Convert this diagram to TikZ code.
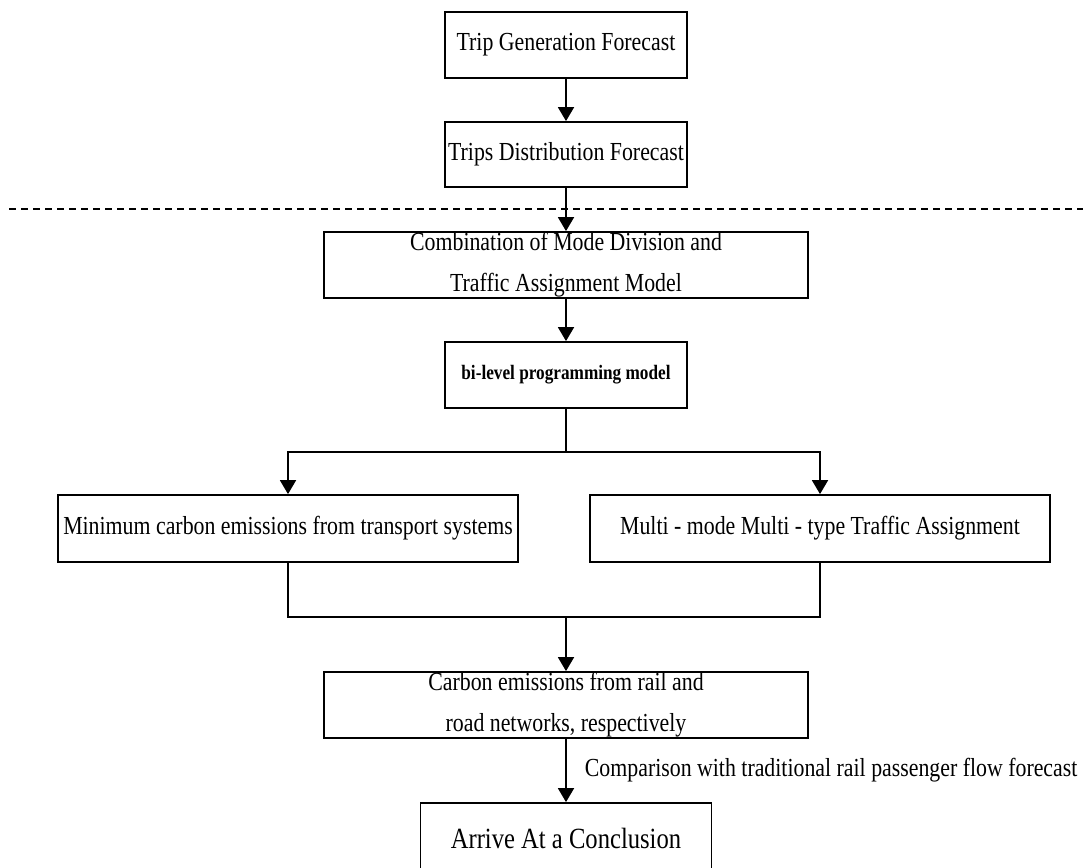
\documentclass[tikz,border=0pt]{standalone}
\usepackage{fontspec}
\setmainfont[FakeStretch=0.84]{Liberation Serif}
\usetikzlibrary{arrows.meta}
\begin{document}
\begin{tikzpicture}[x=1pt,y=-1pt,
  box/.style={draw,line width=1.8pt,inner sep=0pt,align=center,font=\fontsize{26}{40}\selectfont},
  ln/.style={line width=1.8pt},
  arr/.style={line width=1.8pt,-{Triangle[width=16pt,length=14pt]}},
  dashline/.style={line width=2.5pt,dash pattern=on 7.3pt off 4.7pt}]
\path[use as bounding box,clip] (0,0) rectangle (1083,867);
\fill[white] (0,0) rectangle (1083,867);
% boxes
\node[box,minimum width=242pt,minimum height=66pt] (b1) at (566,45) {Trip Generation Forecast};
\node[box,minimum width=242pt,minimum height=65pt] (b2) at (566,154.5) {Trips Distribution Forecast};
\node[box,minimum width=484pt,minimum height=66pt] (b3) at (566,265) {Combination of Mode Division and\\[1pt]Traffic Assignment Model};
\node[box,minimum width=242pt,minimum height=66pt,font=\fontsize{20.5}{24}\selectfont\bfseries] (b4) at (566,375) {bi-level programming model};
\node[box,minimum width=460pt,minimum height=67pt] (b5) at (288,528.5) {Minimum carbon emissions from transport systems};
\node[box,minimum width=460pt,minimum height=67pt] (b6) at (820,528.5) {Multi - mode Multi - type Traffic Assignment};
\node[box,minimum width=484pt,minimum height=66pt] (b7) at (566,705) {Carbon emissions from rail and\\[1pt]road networks, respectively};
\node[box,minimum width=291pt,minimum height=70pt,font=\fontsize{29.3}{34}\selectfont] (b8) at (566,838) {Arrive At a Conclusion};
% dashed separator
\coordinate (dl) at (9,209);
\coordinate (dr) at (1083,209);
\draw[dashline] (dl) -- (dr);
% connectors
\coordinate (split) at (566,452);
\coordinate (merge) at (566,617);
\draw[arr] (b1.south) -- (b2.north);
\draw[arr] (b2.south) -- (b3.north);
\draw[arr] (b3.south) -- (b4.north);
\draw[ln] (b4.south) -- (split);
\draw[arr] (split) -| (b5.north);
\draw[arr] (split) -| (b6.north);
\draw[ln] (b5.south) |- (merge);
\draw[ln] (b6.south) |- (merge);
\draw[arr] (merge) -- (b7.north);
\draw[arr] (b7.south) -- (b8.north)
  node[midway,anchor=west,xshift=18pt,inner sep=0pt,font=\fontsize{26}{30}\selectfont] (lbl) {Comparison with traditional rail passenger flow forecast};
\end{tikzpicture}
\end{document}
